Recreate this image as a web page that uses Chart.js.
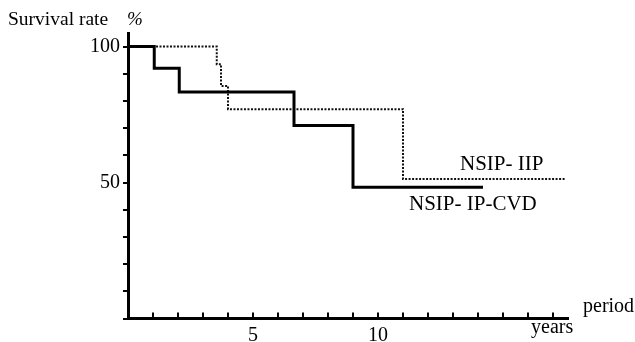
<!DOCTYPE html>
<html>
<head>
<meta charset="utf-8">
<script src="https://cdn.jsdelivr.net/npm/chart.js@4/dist/chart.umd.min.js"></script>
<style>
  html, body { margin: 0; padding: 0; background: #fff; }
  #wrap { width: 635px; height: 342px; position: relative; }
</style>
</head>
<body>
<div id="wrap"><canvas id="km" width="635" height="342"></canvas></div>
<script>
// Kaplan-Meier steps (years, survival %)
const cvdYears = [0, 1.05, 2.05, 6.64, 9.0, 14.2];
const cvdSurvival = [100, 92, 83.3, 71, 48.3, 48.3];
const iipYears = [0, 3.55, 3.72, 4.0, 11.0, 17.5];
const iipSurvival = [100, 93.5, 85.5, 77, 51.3, 51.3];

const yTicks = [0, 10, 20, 30, 40, 50, 60, 70, 80, 90, 100];
const yLabels = { 50: '50', 100: '100' };
const xTicks = [1, 2, 3, 4, 5, 6, 7, 8, 9, 10, 11, 12, 13, 14, 15, 16, 17];
const xLabels = { 5: '5', 10: '10' };

const FONT = '"Liberation Serif", "DejaVu Serif", serif';

function toPoints(xs, ys) {
  return xs.map((x, i) => ({ x: x, y: ys[i] }));
}

// x ticks point up into the plot, so draw them ourselves from the scale
const innerTicks = {
  id: 'innerTicks',
  afterDatasetsDraw(chart) {
    const ctx = chart.ctx;
    const xs = chart.scales.x;
    const bottom = chart.chartArea.bottom;
    ctx.save();
    ctx.strokeStyle = '#000';
    ctx.lineWidth = 2;
    xTicks.forEach(v => {
      const px = xs.getPixelForValue(v);
      ctx.beginPath();
      ctx.moveTo(px, bottom);
      ctx.lineTo(px, bottom - 6);
      ctx.stroke();
    });
    ctx.restore();
  }
};

// loose texts of the figure
const notes = {
  id: 'notes',
  afterDraw(chart) {
    const ctx = chart.ctx;
    ctx.save();
    ctx.fillStyle = '#000';
    ctx.textBaseline = 'middle';
    ctx.textAlign = 'left';
    ctx.font = '19.5px ' + FONT;
    ctx.fillText('Survival rate', 8, 20);
    ctx.font = 'italic 19px ' + FONT;
    ctx.fillText('%', 127, 20);
    ctx.font = '20px ' + FONT;
    ctx.fillText('period', 583, 307);
    ctx.fillText('years', 531, 328);
    ctx.font = '21px ' + FONT;
    ctx.fillText('NSIP- IIP', 460, 164);
    ctx.fillText('NSIP- IP-CVD', 409, 204);
    ctx.restore();
  }
};

new Chart(document.getElementById('km'), {
  type: 'line',
  data: {
    datasets: [
      {
        label: 'NSIP- IP-CVD',
        data: toPoints(cvdYears, cvdSurvival),
        stepped: 'before',
        borderColor: '#000',
        borderWidth: 3,
        pointRadius: 0,
        fill: false
      },
      {
        label: 'NSIP- IIP',
        data: toPoints(iipYears, iipSurvival),
        stepped: 'before',
        borderColor: '#111',
        borderWidth: 2,
        borderDash: [2, 1.5],
        pointRadius: 0,
        fill: false
      }
    ]
  },
  options: {
    responsive: false,
    animation: false,
    layout: { padding: { left: 0, top: 33, right: 67, bottom: 0 } },
    plugins: {
      legend: { display: false },
      tooltip: { enabled: false }
    },
    scales: {
      x: {
        type: 'linear',
        min: 0,
        max: 17.6,
        afterFit: s => { s.height = 23.5; },
        afterBuildTicks: s => { s.ticks = xTicks.map(v => ({ value: v })); },
        grid: { display: false, drawTicks: false },
        border: { display: true, color: '#000', width: 3 },
        ticks: {
          autoSkip: false,
          maxRotation: 0,
          padding: 5,
          color: '#000',
          font: { family: FONT, size: 20 },
          callback: v => xLabels[v] || ''
        }
      },
      y: {
        min: 0,
        max: 105,
        afterFit: s => { s.width = 128; },
        afterBuildTicks: s => { s.ticks = yTicks.map(v => ({ value: v })); },
        grid: {
          drawOnChartArea: false,
          drawTicks: true,
          tickLength: 5,
          color: '#000',
          lineWidth: 2
        },
        border: { display: true, color: '#000', width: 3 },
        ticks: {
          autoSkip: false,
          padding: 3,
          color: '#000',
          font: { family: FONT, size: 20 },
          callback: v => yLabels[v] || ''
        }
      }
    }
  },
  plugins: [innerTicks, notes]
});
</script>
</body>
</html>
